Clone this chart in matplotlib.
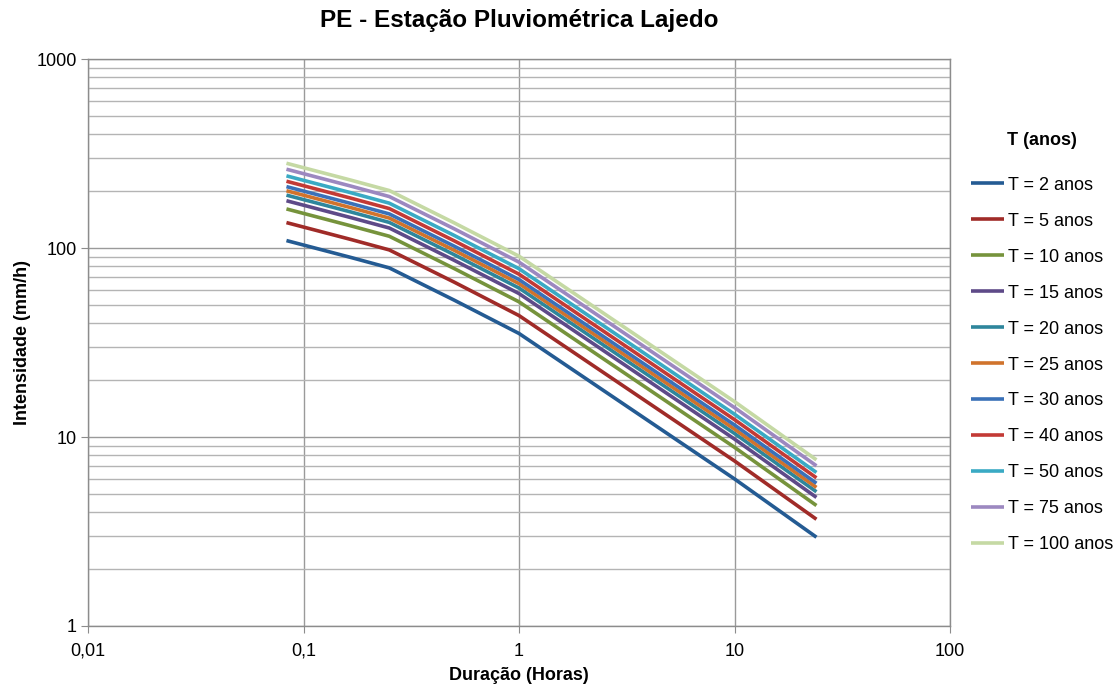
import numpy as np
from matplotlib import pyplot as plt
from matplotlib.ticker import FixedLocator, FixedFormatter, LogLocator, NullFormatter

plt.rcParams['font.family'] = ['Liberation Sans', 'DejaVu Sans']

# Durações em horas (5, 10, 15, 30 min, 1 h, 10 h, 24 h)
duracao = [5 / 60, 10 / 60, 15 / 60, 0.5, 1, 10, 24]

# Intensidades (mm/h)
t2 = [109.5, 89.0, 78.5, 53.0, 35.3, 6.0, 2.95]
t5 = [136.3, 110.8, 97.7, 66.0, 43.9, 7.47, 3.67]
t10 = [161.0, 130.8, 115.4, 77.9, 51.9, 8.82, 4.34]
t15 = [177.9, 144.6, 127.6, 86.1, 57.4, 9.75, 4.79]
t20 = [190.5, 154.9, 136.6, 92.2, 61.4, 10.44, 5.13]
t25 = [200.9, 163.3, 144.0, 97.3, 64.8, 11.01, 5.41]
t30 = [211.3, 171.8, 151.5, 102.3, 68.1, 11.58, 5.69]
t40 = [225.6, 183.3, 161.7, 109.2, 72.7, 12.36, 6.08]
t50 = [240.9, 195.8, 172.7, 116.6, 77.7, 13.2, 6.49]
t75 = [261.2, 212.3, 187.2, 126.4, 84.2, 14.31, 7.04]
t100 = [280.9, 228.3, 201.4, 135.9, 90.5, 15.39, 7.57]

series = [
    ("T = 2 anos", t2, "#245b93"),
    ("T = 5 anos", t5, "#a02b28"),
    ("T = 10 anos", t10, "#76933c"),
    ("T = 15 anos", t15, "#5e4a88"),
    ("T = 20 anos", t20, "#2e869c"),
    ("T = 25 anos", t25, "#d0732c"),
    ("T = 30 anos", t30, "#3a71b8"),
    ("T = 40 anos", t40, "#c33a35"),
    ("T = 50 anos", t50, "#3aaac4"),
    ("T = 75 anos", t75, "#9c88c0"),
    ("T = 100 anos", t100, "#c5d9a4"),
]

fig = plt.figure(figsize=(11.17, 6.87), dpi=100)
ax = fig.add_axes([0.0788, 0.0888, 0.7717, 0.8253])

for label, vals, color in series:
    ax.plot(duracao, vals, color=color, linewidth=2.6, label=label, solid_capstyle='butt')

ax.set_xscale('log')
ax.set_yscale('log')
ax.set_xlim(0.01, 100)
ax.set_ylim(1, 1000)

ax.xaxis.set_major_locator(FixedLocator([0.01, 0.1, 1, 10, 100]))
ax.xaxis.set_major_formatter(FixedFormatter(["0,01", "0,1", "1", "10", "100"]))
ax.xaxis.set_minor_locator(FixedLocator([]))
ax.yaxis.set_major_locator(FixedLocator([1, 10, 100, 1000]))
ax.yaxis.set_major_formatter(FixedFormatter(["1", "10", "100", "1000"]))
ax.yaxis.set_minor_locator(LogLocator(base=10, subs=np.arange(2, 10)))
ax.yaxis.set_minor_formatter(NullFormatter())

ax.grid(True, which='major', axis='both', color='#9a9a9a', linewidth=1.0)
ax.grid(True, which='minor', axis='y', color='#b4b4b4', linewidth=1.0)
ax.set_axisbelow(True)

for sp in ax.spines.values():
    sp.set_color('#8c8c8c')
    sp.set_linewidth(1.0)
ax.tick_params(which='major', length=5, color='#8c8c8c', labelsize=13)
ax.tick_params(axis='x', pad=7)
ax.tick_params(axis='y', pad=3)
ax.tick_params(which='minor', length=0)

ax.set_xlabel("Duração (Horas)", fontsize=13, fontweight='bold', labelpad=5)
ax.set_ylabel("Intensidade (mm/h)", fontsize=13, fontweight='bold', labelpad=4)
ax.set_title("PE - Estação Pluviométrica Lajedo", fontsize=17.5, fontweight='bold', pad=23)

leg = ax.legend(loc='upper left', bbox_to_anchor=(1.005, 0.9), frameon=False,
                title="T (anos)", fontsize=13, labelspacing=1.05,
                handlelength=1.85, handletextpad=0.2, borderaxespad=0.5)
leg.get_title().set_fontweight('bold')
leg.get_title().set_fontsize(13)
leg._legend_box.sep = 20

fig.savefig("out.png", dpi=100)
